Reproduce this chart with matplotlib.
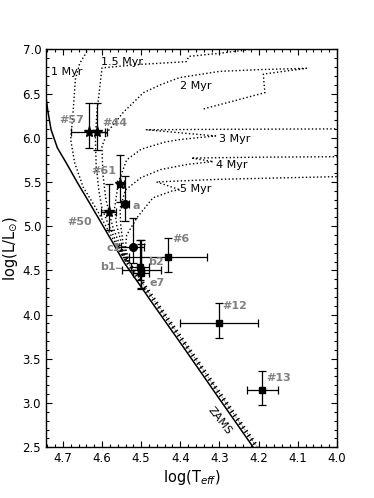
import matplotlib
matplotlib.use('Agg')
import matplotlib.pyplot as plt

# ZAMS
zams_logt = [4.744, 4.738, 4.730, 4.714, 4.691, 4.662, 4.632, 4.602, 4.572,
             4.543, 4.507, 4.477, 4.387, 4.298, 4.214]
zams_logl = [6.486, 6.294, 6.090, 5.886, 5.713, 5.486, 5.263, 5.037, 4.810,
             4.584, 4.357, 4.165, 3.599, 3.032, 2.500]

# lower main-sequence band where the isochrones pile up
band_logt = [4.558, 4.533, 4.497, 4.467, 4.377, 4.288, 4.204]
band_logl = [4.78, 4.584, 4.357, 4.165, 3.599, 3.032, 2.50]

# isochrones
iso_1_t = [4.540, 4.565, 4.590, 4.615, 4.648, 4.670, 4.680, 4.674, 4.668, 4.657, 4.635]
iso_1_l = [4.60, 4.80, 5.00, 5.20, 5.44, 5.72, 5.98, 6.28, 6.66, 6.84, 7.00]

iso_15_t = [4.538, 4.561, 4.582, 4.600, 4.608, 4.615, 4.617, 4.613, 4.600, 4.50,
            4.385, 4.378, 4.30, 4.20]
iso_15_l = [4.60, 4.80, 5.00, 5.20, 5.40, 5.70, 5.99, 6.29, 6.79, 6.83,
            6.86, 6.92, 6.955, 7.01]

iso_2_t = [4.536, 4.556, 4.573, 4.590, 4.598, 4.600, 4.587, 4.545, 4.494, 4.45,
           4.402, 4.30, 4.20, 4.078, 4.188, 4.186, 4.184, 4.26, 4.346]
iso_2_l = [4.60, 4.80, 5.00, 5.30, 5.60, 5.90, 6.06, 6.29, 6.51, 6.60,
           6.68, 6.75, 6.77, 6.785, 6.72, 6.60, 6.51, 6.42, 6.32]

iso_3_t = [4.534, 4.550, 4.562, 4.568, 4.558, 4.537, 4.50, 4.44, 4.40, 4.31,
           4.487, 4.30, 4.00]
iso_3_l = [4.60, 4.80, 5.00, 5.20, 5.50, 5.75, 5.87, 5.95, 5.98, 6.02,
           6.09, 6.095, 6.10]

iso_4_t = [4.532, 4.546, 4.552, 4.554, 4.540, 4.50, 4.45, 4.38, 4.316,
           4.372, 4.20, 4.00]
iso_4_l = [4.60, 4.80, 5.00, 5.20, 5.41, 5.55, 5.64, 5.70, 5.73,
           5.77, 5.78, 5.785]

iso_5_t = [4.530, 4.540, 4.537, 4.51, 4.47, 4.42, 4.40, 4.461, 4.30, 4.00]
iso_5_l = [4.60, 4.75, 4.90, 5.10, 5.32, 5.40, 5.41, 5.50, 5.53, 5.56]

iso_names = ['1 Myr', '1.5 Myr', '2 Myr', '3 Myr', '4 Myr', '5 Myr']
iso_label_t = [4.731, 4.602, 4.402, 4.300, 4.310, 4.400]
iso_label_l = [6.74, 6.86, 6.58, 5.985, 5.69, 5.42]

# stars (star markers)
star_names = ['#57', '#44', '#61', '#50']
star_logt = [4.633, 4.613, 4.553, 4.583]
star_logl = [6.07, 6.07, 5.475, 5.16]
star_terr = [0.045, 0.02, 0.008, 0.02]
star_lerr_lo = [0.19, 0.21, 0.20, 0.20]
star_lerr_hi = [0.32, 0.32, 0.33, 0.32]

# circles
circ_names = ['a', 'c1']
circ_logt = [4.541, 4.522]
circ_logl = [5.25, 4.765]
circ_terr = [0.01, 0.03]
circ_lerr_lo = [0.19, 0.185]
circ_lerr_hi = [0.32, 0.325]

# squares
sq_names = ['b1', 'b2', 'e7', '#6', '#12', '#13']
sq_logt = [4.500, 4.504, 4.500, 4.432, 4.302, 4.191]
sq_logl = [4.500, 4.540, 4.465, 4.655, 3.905, 3.145]
sq_terr = [0.05, 0.023, 0.02, 0.10, 0.10, 0.04]
sq_lerr_lo = [0.20, 0.15, 0.18, 0.17, 0.175, 0.17]
sq_lerr_hi = [0.30, 0.30, 0.38, 0.215, 0.225, 0.215]

fig = plt.figure(figsize=(3.74, 4.98), dpi=100)
ax = fig.add_axes([0.123, 0.102, 0.778, 0.799])

ax.plot(zams_logt, zams_logl, color='k', lw=1.1)
ax.plot(band_logt, band_logl, color='k', lw=3.2, dashes=(0.3, 0.8),
        dash_capstyle='butt')
ax.plot(band_logt, band_logl, color='k', lw=0.6, ls=':')

for t, l in [(iso_1_t, iso_1_l), (iso_15_t, iso_15_l), (iso_2_t, iso_2_l),
             (iso_3_t, iso_3_l), (iso_4_t, iso_4_l), (iso_5_t, iso_5_l)]:
    ax.plot(t, l, color='k', ls=':', lw=1.0)

for name, t, l in zip(iso_names, iso_label_t, iso_label_l):
    ax.text(t, l, name, fontsize=8, ha='left', va='center')

eb = dict(ls='none', ecolor='k', elinewidth=0.9, capsize=3, capthick=0.9,
          mfc='k', mec='k')
ax.errorbar(star_logt, star_logl, xerr=star_terr,
            yerr=[star_lerr_lo, star_lerr_hi], marker='*', ms=8, **eb)
ax.errorbar(circ_logt, circ_logl, xerr=circ_terr,
            yerr=[circ_lerr_lo, circ_lerr_hi], marker='o', ms=5.5, **eb)
ax.errorbar(sq_logt, sq_logl, xerr=sq_terr,
            yerr=[sq_lerr_lo, sq_lerr_hi], marker='s', ms=5, **eb)

# source labels
lab_style = dict(fontsize=8, color='grey', fontweight='bold', va='center')
lab_pos = {'#57': (4.645, 6.20, 'right'), '#44': (4.600, 6.165, 'left'),
           '#61': (4.563, 5.62, 'right'), '#50': (4.625, 5.045, 'right'),
           'a': (4.523, 5.23, 'left'), 'c1': (4.551, 4.75, 'right'),
           'b1': (4.565, 4.535, 'right'), 'b2': (4.481, 4.59, 'left'),
           'e7': (4.479, 4.355, 'left'), '#6': (4.421, 4.85, 'left'),
           '#12': (4.292, 4.10, 'left'), '#13': (4.181, 3.285, 'left')}
for name in star_names + circ_names + sq_names:
    x, y, ha = lab_pos[name]
    ax.text(x, y, name, ha=ha, **lab_style)
ax.plot([4.563, 4.550], [4.525, 4.52], color='grey', lw=0.9)

ax.text(4.299, 2.80, 'ZAMS', fontsize=8, rotation=-52,
        ha='center', va='center')

ax.set_xlim(4.743, 4.0)
ax.set_ylim(2.5, 7.0)
ax.set_xticks([4.7, 4.6, 4.5, 4.4, 4.3, 4.2, 4.1, 4.0])
ax.set_xticks([4.74 - 0.02 * i for i in range(37)], minor=True)
ax.set_yticks([2.5, 3.0, 3.5, 4.0, 4.5, 5.0, 5.5, 6.0, 6.5, 7.0])
ax.set_yticks([2.5 + 0.1 * i for i in range(46)], minor=True)
ax.xaxis.set_major_formatter(matplotlib.ticker.FormatStrFormatter('%.1f'))
ax.yaxis.set_major_formatter(matplotlib.ticker.FormatStrFormatter('%.1f'))
ax.tick_params(which='both', direction='in', top=True, right=True,
               labelsize=8.5, width=0.8)
ax.tick_params(which='major', length=4)
ax.tick_params(which='minor', length=2)
for s in ax.spines.values():
    s.set_linewidth(1.0)

ax.set_xlabel(r'log(T$_{eff}$)', fontsize=10.5, labelpad=2)
ax.set_ylabel(r'log(L/L$_{\odot}$)', fontsize=10.5, labelpad=2)

fig.savefig('out.png', dpi=100)
